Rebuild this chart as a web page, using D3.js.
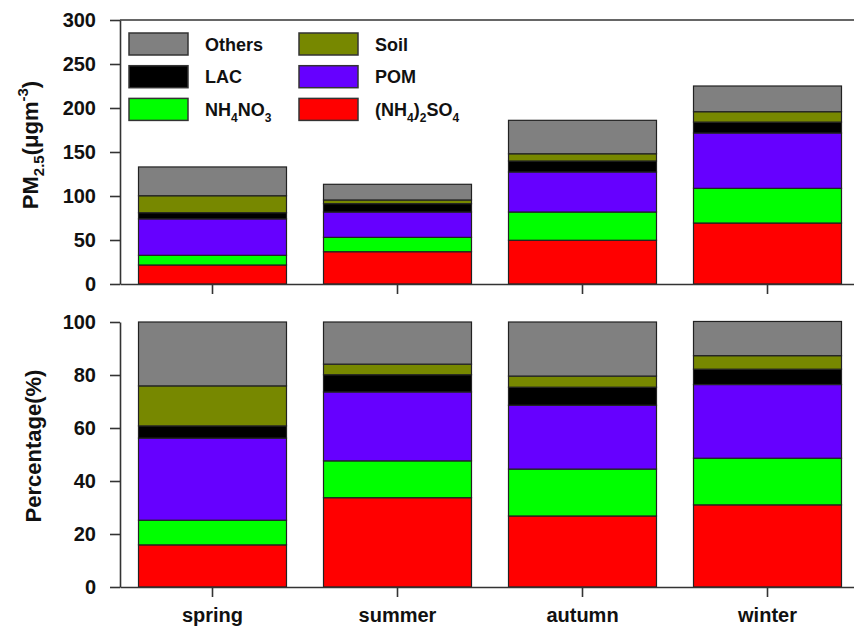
<!DOCTYPE html>
<html>
<head>
<meta charset="utf-8">
<script src="https://cdn.jsdelivr.net/npm/d3@7"></script>
<style>
  html, body { margin: 0; padding: 0; background: #fff; }
  svg { display: block; }
  text { font-family: "Liberation Sans", Arial, sans-serif; font-weight: bold; fill: #111; }
</style>
</head>
<body>
<svg id="chart" width="854" height="629"></svg>
<script>
// Seasons and PM2.5 components (bottom of stack first)
const seasons = ["spring", "summer", "autumn", "winter"];
const components = ["SO4", "NO3", "POM", "LAC", "Soil", "Others"];
const colors = ["#ff0000", "#00ff00", "#6600ff", "#000000", "#778800", "#808080"];

// Mass concentrations, µg m-3
const massSO4    = [21.6, 36.7, 49.7, 69.3];
const massNO3    = [11.0, 16.3, 32.1, 39.4];
const massPOM    = [41.4, 28.8, 45.5, 62.9];
const massLAC    = [7.0, 9.5, 12.5, 12.4];
const massSoil   = [19.3, 4.2, 8.2, 11.8];
const massOthers = [32.7, 17.8, 38.0, 29.2];

// Fractions of total, %
const pctSO4    = [15.9, 33.7, 26.8, 31.0];
const pctNO3    = [9.3, 13.9, 17.7, 17.6];
const pctPOM    = [31.0, 26.0, 24.1, 27.8];
const pctLAC    = [4.6, 6.5, 6.8, 5.8];
const pctSoil   = [15.1, 4.0, 4.2, 5.1];
const pctOthers = [24.1, 15.9, 20.4, 12.9];

const massTicks = [0, 50, 100, 150, 200, 250, 300];
const pctTicks = [0, 20, 40, 60, 80, 100];

function rows(arrs) {
  return seasons.map((s, i) => {
    const r = { season: s };
    components.forEach((c, j) => { r[c] = arrs[j][i]; });
    return r;
  });
}
const massRows = rows([massSO4, massNO3, massPOM, massLAC, massSoil, massOthers]);
const pctRows = rows([pctSO4, pctNO3, pctPOM, pctLAC, pctSoil, pctOthers]);

const svg = d3.select("#chart");
const color = d3.scaleOrdinal(components, colors);
const x = d3.scaleBand(seasons, [120, 860]).paddingInner(0.2).paddingOuter(0.1);

const yMass = d3.scaleLinear([0, 300], [284, 20]);
const yPct = d3.scaleLinear([0, 100], [587, 322]);

function drawStack(data, y) {
  const series = d3.stack().keys(components)(data);
  const g = svg.append("g");
  g.selectAll("g").data(series).join("g")
    .attr("fill", d => color(d.key))
    .selectAll("rect").data(d => d).join("rect")
      .attr("x", d => x(d.data.season))
      .attr("width", x.bandwidth())
      .attr("y", d => y(d[1]))
      .attr("height", d => y(d[0]) - y(d[1]))
      .attr("stroke", "#222")
      .attr("stroke-width", 1.2);
}

function styleAxis(g) {
  g.selectAll("path, line").attr("stroke", "#333").attr("stroke-width", 1.6);
  g.selectAll("text").attr("fill", "#111").style("font-size", "20px")
    .style("font-family", '"Liberation Sans", Arial, sans-serif').style("font-weight", "bold");
}

// Top panel: absolute concentrations
drawStack(massRows, yMass);
svg.append("line").attr("x1", 120).attr("x2", 854).attr("y1", 20).attr("y2", 20)
  .attr("stroke", "#333").attr("stroke-width", 1.6);
svg.append("g").attr("transform", "translate(120,0)")
  .call(d3.axisLeft(yMass).tickValues(massTicks).tickSize(10).tickPadding(14).tickSizeOuter(0))
  .call(styleAxis);
svg.append("g").attr("transform", "translate(0,284)")
  .call(d3.axisBottom(x).tickSize(10).tickSizeOuter(0).tickFormat(""))
  .call(styleAxis);

// Bottom panel: percentage composition
drawStack(pctRows, yPct);
svg.append("g").attr("transform", "translate(120,0)")
  .call(d3.axisLeft(yPct).tickValues(pctTicks).tickSize(10).tickPadding(14).tickSizeOuter(0))
  .call(styleAxis);
svg.append("g").attr("transform", "translate(0,587)")
  .call(d3.axisBottom(x).tickSize(10).tickPadding(11).tickSizeOuter(0))
  .call(styleAxis);

// Axis titles
const t1 = svg.append("text").attr("transform", "translate(38,145) rotate(-90)")
  .attr("text-anchor", "middle").style("font-size", "22px");
t1.append("tspan").text("PM");
t1.append("tspan").text("2.5").attr("dy", 6).style("font-size", "15px");
t1.append("tspan").text("(μgm").attr("dy", -6);
t1.append("tspan").text("-3").attr("dy", -10).style("font-size", "15px");
t1.append("tspan").text(")").attr("dy", 10);

svg.append("text").attr("transform", "translate(41,446) rotate(-90)")
  .attr("text-anchor", "middle").style("font-size", "22px").text("Percentage(%)");

// Legend, two columns from the top of the stack down
const legendItems = [
  { key: "Others", col: 0, row: 0, label: [["Others"]] },
  { key: "Soil", col: 1, row: 0, label: [["Soil"]] },
  { key: "LAC", col: 0, row: 1, label: [["LAC"]] },
  { key: "POM", col: 1, row: 1, label: [["POM"]] },
  { key: "NO3", col: 0, row: 2, label: [["NH"], ["4", 1], ["NO"], ["3", 1]] },
  { key: "SO4", col: 1, row: 2, label: [["(NH"], ["4", 1], [")"], ["2", 1], ["SO"], ["4", 1]] }
];
const legend = svg.append("g");
legendItems.forEach(it => {
  const lx = it.col === 0 ? 129 : 299;
  const ly = 33 + it.row * 32.7;
  legend.append("rect").attr("x", lx).attr("y", ly).attr("width", 59).attr("height", 22)
    .attr("fill", color(it.key)).attr("stroke", "#333").attr("stroke-width", 1.5);
  const t = legend.append("text").attr("x", lx + 76).attr("y", ly + 17.5).style("font-size", "18px");
  let sub = false;
  it.label.forEach(([s, isSub]) => {
    const ts = t.append("tspan").text(s);
    if (isSub && !sub) { ts.attr("dy", 6).style("font-size", "12px"); sub = true; }
    else if (!isSub && sub) { ts.attr("dy", -6); sub = false; }
    else if (isSub) { ts.style("font-size", "12px"); }
  });
});
</script>
</body>
</html>
